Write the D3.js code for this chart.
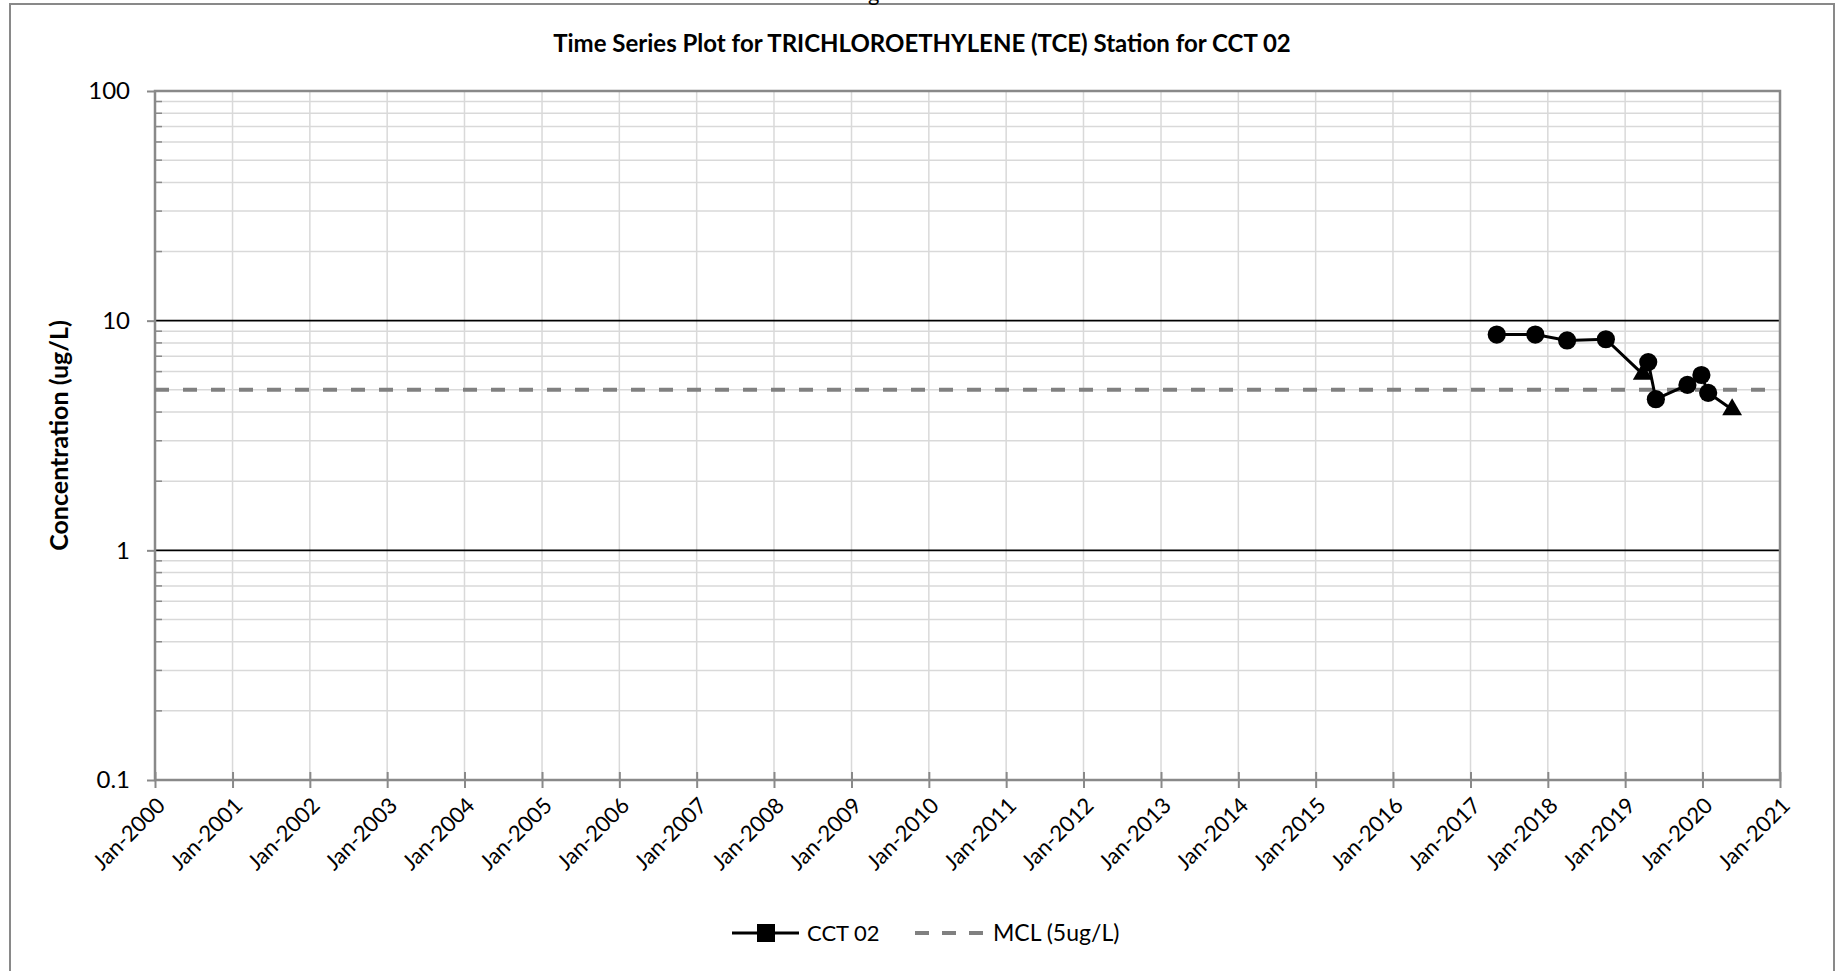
<!DOCTYPE html>
<html lang="en">
<head>
    <meta charset="UTF-8">
    <script src="https://cdn.jsdelivr.net/npm/d3@7"></script>
    <title>Time Series Plot for TRICHLOROETHYLENE (TCE) Station for CCT 02</title>
    <style>
        html, body {
            margin: 0px;
            padding: 0px;
            background-color: #ffffff;
            font-family: Lato, "Open Sans", sans-serif;
            color: #000;
        }
        svg { display: block; }
    </style>
</head>
<body>
    <div id="chart"></div>
    <script>
        // sample dates, TCE result (ug/L), marker shape per sample
        const sampleDates = ['2017-05-05', '2017-11-03', '2018-04-02', '2018-10-02', '2019-03-25',
            '2019-04-20', '2019-05-26', '2019-10-22', '2019-12-27', '2020-01-28', '2020-05-20'];
        const tceValues = [8.7, 8.7, 8.2, 8.3, 5.85, 6.6, 4.55, 5.25, 5.8, 4.85, 4.1];
        const markerShapes = ['circle', 'circle', 'circle', 'circle', 'triangle',
            'circle', 'circle', 'circle', 'circle', 'circle', 'triangle'];
        const mclValue = 5;
        const yTicks = [0.1, 1, 10, 100];
        const xYears = d3.range(2000, 2022);
        const titleText = 'Time Series Plot for TRICHLOROETHYLENE (TCE) Station for CCT 02';
        const yLabel = 'Concentration (ug/L)';
        const seriesNames = ['CCT 02', 'MCL (5ug/L)'];

        const width = 1843, height = 971;
        const margin = { top: 91, right: 63, bottom: 191, left: 155 };
        const axisGray = '#898989';
        const gridGray = '#d9d9d9';

        const svg = d3.select('#chart').append('svg')
            .attr('width', width).attr('height', height);

        svg.append('rect').attr('width', width).attr('height', height).attr('fill', '#fff');

        // chart frame (bottom runs off the page)
        svg.append('rect')
            .attr('x', 10).attr('y', 4)
            .attr('width', 1824).attr('height', 1100)
            .attr('fill', 'none').attr('stroke', axisGray).attr('stroke-width', 2);

        // bit of caption cut off above the frame
        svg.append('text').attr('x', 868).attr('y', 1)
            .attr('font-size', 22).text('g');

        const x = d3.scaleTime()
            .domain([new Date(2000, 0, 1), new Date(2021, 0, 1)])
            .range([margin.left, width - margin.right]);
        const y = d3.scaleLog()
            .domain([0.1, 100])
            .range([height - margin.bottom, margin.top]);

        const x0 = x.range()[0], x1 = x.range()[1];
        const y0 = y.range()[0], y1 = y.range()[1];

        const minor = [];
        [0.1, 1, 10].forEach(b => d3.range(2, 10).forEach(m => minor.push(b * m)));

        // vertical year gridlines
        svg.append('g').selectAll('line')
            .data(xYears.slice(1, -1))
            .join('line')
            .attr('x1', d => x(new Date(d, 0, 1))).attr('x2', d => x(new Date(d, 0, 1)))
            .attr('y1', y1).attr('y2', y0)
            .attr('stroke', gridGray).attr('stroke-width', 1.5);

        // minor horizontal gridlines
        svg.append('g').selectAll('line')
            .data(minor)
            .join('line')
            .attr('x1', x0).attr('x2', x1)
            .attr('y1', d => y(d)).attr('y2', d => y(d))
            .attr('stroke', gridGray).attr('stroke-width', 1.5);

        // minor tick marks inside left axis
        svg.append('g').selectAll('line')
            .data(minor)
            .join('line')
            .attr('x1', x0).attr('x2', x0 + 7)
            .attr('y1', d => y(d)).attr('y2', d => y(d))
            .attr('stroke', axisGray).attr('stroke-width', 1.5);

        // major gridlines
        svg.append('g').selectAll('line')
            .data([1, 10])
            .join('line')
            .attr('x1', x0).attr('x2', x1)
            .attr('y1', d => y(d)).attr('y2', d => y(d))
            .attr('stroke', '#000').attr('stroke-width', 1.6);

        // plot border
        svg.append('rect')
            .attr('x', x0).attr('y', y1)
            .attr('width', x1 - x0).attr('height', y0 - y1)
            .attr('fill', 'none').attr('stroke', axisGray).attr('stroke-width', 2.5);

        // y axis
        const yAxis = svg.append('g')
            .attr('transform', `translate(${x0},0)`)
            .call(d3.axisLeft(y).tickValues(yTicks).tickSize(8).tickPadding(17)
                .tickFormat(d => d < 1 ? d3.format('.1f')(d) : d3.format('d')(d)));
        yAxis.select('.domain').remove();
        yAxis.selectAll('.tick line').attr('stroke', axisGray).attr('stroke-width', 2);
        yAxis.selectAll('.tick text')
            .attr('font-family', 'Lato, sans-serif').attr('font-size', 24).attr('fill', '#000');

        // x axis
        const xAxis = svg.append('g')
            .attr('transform', `translate(0,${y0})`)
            .call(d3.axisBottom(x).tickValues(xYears.map(d => new Date(d, 0, 1)))
                .tickSize(8).tickFormat(d3.timeFormat('%b-%Y')));
        xAxis.select('.domain').remove();
        xAxis.selectAll('.tick line').attr('y1', -8).attr('stroke', axisGray).attr('stroke-width', 2);
        xAxis.selectAll('.tick text')
            .attr('font-family', 'Lato, sans-serif').attr('font-size', 22).attr('fill', '#000')
            .attr('text-anchor', 'end')
            .attr('y', 0).attr('dy', 0)
            .attr('transform', 'translate(11,27) rotate(-45)');

        // MCL line
        svg.append('line')
            .attr('x1', x0).attr('x2', x1)
            .attr('y1', y(mclValue)).attr('y2', y(mclValue))
            .attr('stroke', '#808080').attr('stroke-width', 4)
            .attr('stroke-dasharray', '14,14');

        // CCT 02 series
        const data = sampleDates.map((d, i) => ({
            date: d3.timeParse('%Y-%m-%d')(d), value: tceValues[i], shape: markerShapes[i]
        }));

        const line = d3.line().x(d => x(d.date)).y(d => y(d.value));
        svg.append('path')
            .datum(data)
            .attr('d', line)
            .attr('fill', 'none').attr('stroke', '#000').attr('stroke-width', 3);

        svg.append('g').selectAll('path')
            .data(data)
            .join('path')
            .attr('transform', d => `translate(${x(d.date)},${y(d.value)})`)
            .attr('d', d => d.shape === 'triangle'
                ? d3.symbol(d3.symbolTriangle, 170)()
                : d3.symbol(d3.symbolCircle, 260)())
            .attr('fill', '#000');

        // title
        svg.append('text')
            .attr('x', 922).attr('y', 52)
            .attr('text-anchor', 'middle')
            .attr('font-size', 24).attr('font-weight', 'bold')
            .text(titleText);

        // y axis title
        svg.append('text')
            .attr('transform', `translate(68,${(y0 + y1) / 2}) rotate(-90)`)
            .attr('text-anchor', 'middle')
            .attr('font-size', 25).attr('font-weight', 'bold')
            .text(yLabel);

        // legend
        const legend = svg.append('g').attr('transform', 'translate(732,933)');
        legend.append('line').attr('x1', 0).attr('x2', 67).attr('y1', 0).attr('y2', 0)
            .attr('stroke', '#000').attr('stroke-width', 3);
        legend.append('rect').attr('x', 25).attr('y', -9).attr('width', 18).attr('height', 18)
            .attr('fill', '#000');
        legend.append('text').attr('x', 75).attr('y', 0).attr('dy', '0.35em')
            .attr('font-size', 22).text(seriesNames[0]);
        legend.append('line').attr('x1', 183).attr('x2', 252).attr('y1', 0).attr('y2', 0)
            .attr('stroke', '#808080').attr('stroke-width', 4).attr('stroke-dasharray', '14,13');
        legend.append('text').attr('x', 261).attr('y', 0).attr('dy', '0.35em')
            .attr('font-size', 23).text(seriesNames[1]);
    </script>
</body>
</html>
